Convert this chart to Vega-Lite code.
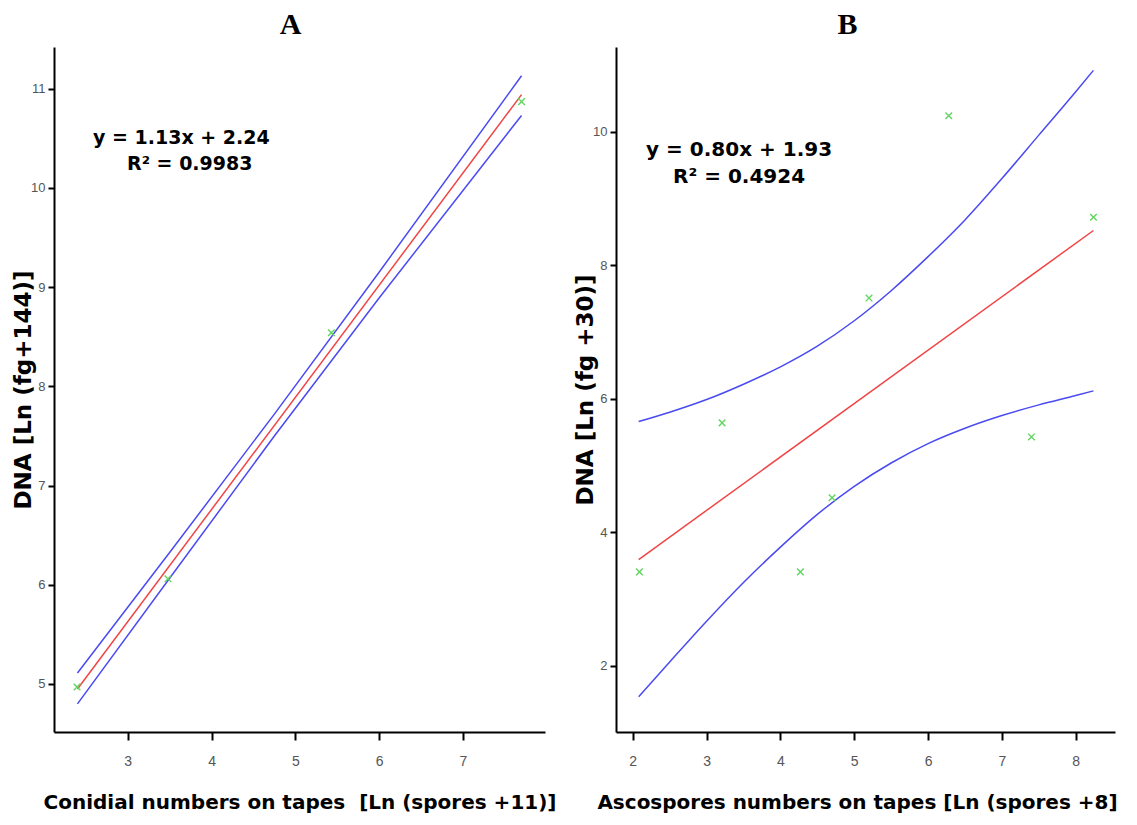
{
  "$schema": "https://vega.github.io/schema/vega-lite/v6.json",
  "background": "white",
  "padding": {"left": 12, "top": 10, "right": 5, "bottom": 3},
  "spacing": 71,
  "bounds": "flush",
  "config": {
    "view": {"stroke": null},
    "axis": {
      "domainColor": "#000000", "domainWidth": 2, "tickColor": "#000000", "tickWidth": 2, "tickSize": 7,
      "labelColor": "#555555", "labelFont": "Liberation Sans", "labelFontSize": 13, "labelPadding": 4,
      "grid": false, "titleFont": "DejaVu Sans", "titleFontWeight": "bold", "titleFontSize": 20, "titleColor": "#000000"
    },
    "title": {"font": "Liberation Serif", "fontSize": 30, "fontWeight": "bold", "color": "#000000", "offset": 7}
  },
  "datasets": {
    "ptsA": [
      {"x": 2.395, "y": 4.97}, {"x": 3.48, "y": 6.06}, {"x": 5.43, "y": 8.54}, {"x": 7.70, "y": 10.87}
    ],
    "linesA": [
      {"series": "fit", "x": 2.4, "y": 4.95}, {"series": "fit", "x": 7.7, "y": 10.94},
      {"series": "upper", "x": 2.4, "y": 5.11}, {"series": "upper", "x": 3.5, "y": 6.325}, {"series": "upper", "x": 4.75, "y": 7.72}, {"series": "upper", "x": 6.0, "y": 9.15}, {"series": "upper", "x": 7.7, "y": 11.13},
      {"series": "lower", "x": 2.4, "y": 4.80}, {"series": "lower", "x": 3.5, "y": 6.065}, {"series": "lower", "x": 4.75, "y": 7.50}, {"series": "lower", "x": 6.0, "y": 8.89}, {"series": "lower", "x": 7.7, "y": 10.73}
    ],
    "textA": [
      {"x": 3.64, "y": 10.50, "label": "y = 1.13x + 2.24"},
      {"x": 3.74, "y": 10.24, "label": "R² = 0.9983"}
    ],
    "ptsB": [
      {"x": 2.09, "y": 3.41}, {"x": 3.21, "y": 5.64}, {"x": 4.27, "y": 3.41}, {"x": 4.70, "y": 4.52},
      {"x": 5.20, "y": 7.51}, {"x": 6.28, "y": 10.24}, {"x": 7.40, "y": 5.43}, {"x": 8.24, "y": 8.72}
    ],
    "linesB": [
      {"series": "fit", "x": 2.08, "y": 3.594}, {"series": "fit", "x": 8.24, "y": 8.522},
      {"series": "upper", "x": 2.08, "y": 5.66}, {"series": "upper", "x": 2.5, "y": 5.80}, {"series": "upper", "x": 3.0, "y": 5.99},
      {"series": "upper", "x": 3.5, "y": 6.22}, {"series": "upper", "x": 4.0, "y": 6.48}, {"series": "upper", "x": 4.5, "y": 6.79},
      {"series": "upper", "x": 5.0, "y": 7.17}, {"series": "upper", "x": 5.5, "y": 7.62}, {"series": "upper", "x": 6.0, "y": 8.13},
      {"series": "upper", "x": 6.5, "y": 8.68}, {"series": "upper", "x": 7.0, "y": 9.30}, {"series": "upper", "x": 7.5, "y": 9.95},
      {"series": "upper", "x": 8.0, "y": 10.60}, {"series": "upper", "x": 8.24, "y": 10.92},
      {"series": "lower", "x": 2.08, "y": 1.54}, {"series": "lower", "x": 2.5, "y": 2.06}, {"series": "lower", "x": 3.0, "y": 2.67},
      {"series": "lower", "x": 3.5, "y": 3.25}, {"series": "lower", "x": 4.0, "y": 3.78}, {"series": "lower", "x": 4.5, "y": 4.27},
      {"series": "lower", "x": 5.0, "y": 4.69}, {"series": "lower", "x": 5.5, "y": 5.04}, {"series": "lower", "x": 6.0, "y": 5.33},
      {"series": "lower", "x": 6.5, "y": 5.56}, {"series": "lower", "x": 7.0, "y": 5.75}, {"series": "lower", "x": 7.5, "y": 5.91},
      {"series": "lower", "x": 8.0, "y": 6.05}, {"series": "lower", "x": 8.24, "y": 6.12}
    ],
    "textB": [
      {"x": 3.44, "y": 9.73, "label": "y = 0.80x + 1.93"},
      {"x": 3.44, "y": 9.33, "label": "R² = 0.4924"}
    ]
  },
  "hconcat": [
    {
      "title": {"text": "A", "anchor": "middle", "dx": -9},
      "width": 491,
      "height": 685,
      "layer": [
        {
          "data": {"name": "linesA"},
          "mark": {"type": "line", "strokeWidth": 1.5},
          "encoding": {
            "x": {"field": "x", "type": "quantitative", "scale": {"domain": [2.12, 7.98], "nice": false, "zero": false},
                  "axis": {"values": [3, 4, 5, 6, 7], "format": "d", "tickSize": 8, "labelPadding": 14, "labelFontSize": 14, "title": "Conidial numbers on tapes\u00a0 [Ln (spores +11)]", "titlePadding": 24}},
            "y": {"field": "y", "type": "quantitative", "scale": {"domain": [4.516, 11.42], "nice": false, "zero": false},
                  "axis": {"values": [5, 6, 7, 8, 9, 10, 11], "format": "d", "tickSize": 6, "labelPadding": 3, "title": "DNA [Ln (fg+144)]", "titleFontSize": 23, "titlePadding": -5}},
            "color": {"field": "series", "type": "nominal", "scale": {"domain": ["fit", "upper", "lower"], "range": ["#f04545", "#4a4af2", "#4a4af2"]}, "legend": null}
          }
        },
        {
          "data": {"name": "ptsA"},
          "mark": {"type": "point", "shape": "M-1,-1L1,1M1,-1L-1,1", "filled": false, "size": 44, "strokeWidth": 1.4, "color": "#5fd65f", "opacity": 1},
          "encoding": {
            "x": {"field": "x", "type": "quantitative"},
            "y": {"field": "y", "type": "quantitative"}
          }
        },
        {
          "mark": {"type": "rule", "strokeWidth": 2, "color": "#000000"},
          "encoding": {
            "x": {"datum": 7.98, "type": "quantitative"},
            "y": {"datum": 4.516, "type": "quantitative"},
            "y2": {"datum": 11.36}
          }
        },
        {
          "mark": {"type": "rule", "strokeWidth": 2, "color": "#000000"},
          "encoding": {
            "x": {"datum": 2.12, "type": "quantitative"},
            "x2": {"datum": 2.26},
            "y": {"datum": 11.42, "type": "quantitative"}
          }
        },
        {
          "data": {"name": "textA"},
          "mark": {"type": "text", "font": "DejaVu Sans", "fontWeight": "bold", "fontSize": 19, "color": "#000000", "align": "center", "baseline": "middle"},
          "encoding": {
            "x": {"field": "x", "type": "quantitative"},
            "y": {"field": "y", "type": "quantitative"},
            "text": {"field": "label"}
          }
        }
      ]
    },
    {
      "title": {"text": "B", "anchor": "middle", "dx": -18},
      "width": 499,
      "height": 685,
      "layer": [
        {
          "data": {"name": "linesB"},
          "mark": {"type": "line", "strokeWidth": 1.5, "interpolate": "monotone"},
          "encoding": {
            "x": {"field": "x", "type": "quantitative", "scale": {"domain": [1.773, 8.532], "nice": false, "zero": false},
                  "axis": {"values": [2, 3, 4, 5, 6, 7, 8], "format": "d", "tickSize": 8, "labelPadding": 14, "labelFontSize": 14, "title": "Ascospores numbers on tapes [Ln (spores +8]", "titlePadding": 24, "titleX": 241}},
            "y": {"field": "y", "type": "quantitative", "scale": {"domain": [1.011, 11.27], "nice": false, "zero": false},
                  "axis": {"values": [2, 4, 6, 8, 10], "format": "d", "tickSize": 6, "labelPadding": 3, "title": "DNA [Ln (fg +30)]", "titleFontSize": 23, "titlePadding": -5}},
            "color": {"field": "series", "type": "nominal", "scale": {"domain": ["fit", "upper", "lower"], "range": ["#f04545", "#4a4af2", "#4a4af2"]}, "legend": null}
          }
        },
        {
          "data": {"name": "ptsB"},
          "mark": {"type": "point", "shape": "M-1,-1L1,1M1,-1L-1,1", "filled": false, "size": 44, "strokeWidth": 1.4, "color": "#5fd65f", "opacity": 1},
          "encoding": {
            "x": {"field": "x", "type": "quantitative"},
            "y": {"field": "y", "type": "quantitative"}
          }
        },
        {
          "mark": {"type": "rule", "strokeWidth": 2, "color": "#000000"},
          "encoding": {
            "x": {"datum": 8.532, "type": "quantitative"},
            "y": {"datum": 1.011, "type": "quantitative"},
            "y2": {"datum": 11.27}
          }
        },
        {
          "data": {"name": "textB"},
          "mark": {"type": "text", "font": "DejaVu Sans", "fontWeight": "bold", "fontSize": 20, "color": "#000000", "align": "center", "baseline": "middle"},
          "encoding": {
            "x": {"field": "x", "type": "quantitative"},
            "y": {"field": "y", "type": "quantitative"},
            "text": {"field": "label"}
          }
        }
      ]
    }
  ]
}
